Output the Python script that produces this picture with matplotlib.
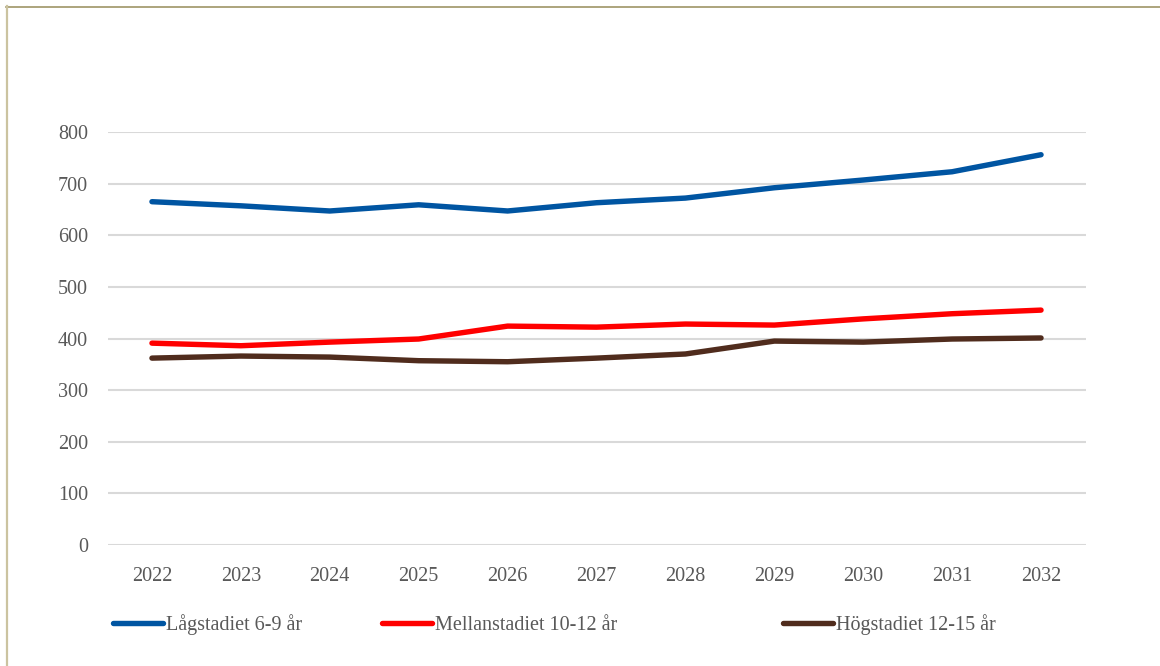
import matplotlib
matplotlib.use("Agg")
import matplotlib.pyplot as plt
from matplotlib.lines import Line2D

years = ["2022", "2023", "2024", "2025", "2026", "2027", "2028", "2029", "2030", "2031", "2032"]
lagstadiet = [665, 657, 647, 659, 647, 663, 672, 692, 707, 723, 756]
mellanstadiet = [391, 386, 393, 399, 424, 422, 428, 426, 438, 448, 455]
hogstadiet = [362, 366, 364, 357, 355, 362, 370, 395, 393, 399, 401]
series_names = ["Lågstadiet 6-9 år", "Mellanstadiet 10-12 år", "Högstadiet 12-15 år"]
colors = ["#0055a2", "#ff0000", "#502c1d"]
yticks = [0, 100, 200, 300, 400, 500, 600, 700, 800]

plt.rcParams['font.family'] = ['Liberation Serif', 'DejaVu Serif']
W, H = 1160, 666
fig = plt.figure(figsize=(W / 100, H / 100), dpi=100)

def fx(px):
    return px / W

def fy(py):
    return 1 - py / H

ax = fig.add_axes([fx(107.5), fy(545), fx(1085.5) - fx(107.5), fy(132) - fy(545)])
x = list(range(len(years)))
lines = []
for vals, c, name in zip([lagstadiet, mellanstadiet, hogstadiet], colors, series_names):
    ln, = ax.plot(x, vals, color=c, lw=3.9, solid_capstyle='round', solid_joinstyle='round', label=name, zorder=3)
    lines.append(ln)

ax.set_xlim(-0.5, len(years) - 0.5)
ax.set_ylim(0, 800)
ax.set_yticks(yticks)
ax.set_yticklabels([str(v) for v in yticks])
ax.set_xticks(x)
ax.set_xticklabels(years)
ax.grid(axis='y', color='#d9d9d9', lw=1.5, zorder=0)
ax.set_axisbelow(True)
for s in ax.spines.values():
    s.set_visible(False)
ax.tick_params(axis='both', length=0, labelsize=14.5, labelcolor='#595959')
ax.tick_params(axis='y', pad=14)
ax.tick_params(axis='x', pad=16)

# legends placed individually
leg_x = [113, 382, 783]
for ln, lx in zip(lines, leg_x):
    lg = fig.legend(handles=[ln], loc='center left', bbox_to_anchor=(fx(lx), fy(625)),
                    frameon=False, fontsize=14.5, handlelength=2.5, handletextpad=0.12,
                    borderpad=0, borderaxespad=0)
    for t in lg.get_texts():
        t.set_color('#595959')

# frame lines
fig.add_artist(Line2D([fx(6), 1.0], [fy(6.5), fy(6.5)], color='#9e9566', lw=1.2))
fig.add_artist(Line2D([fx(7), fx(7)], [fy(6), 0.0], color='#cbc3a0', lw=1.6))

fig.savefig("out.png", dpi=100)
